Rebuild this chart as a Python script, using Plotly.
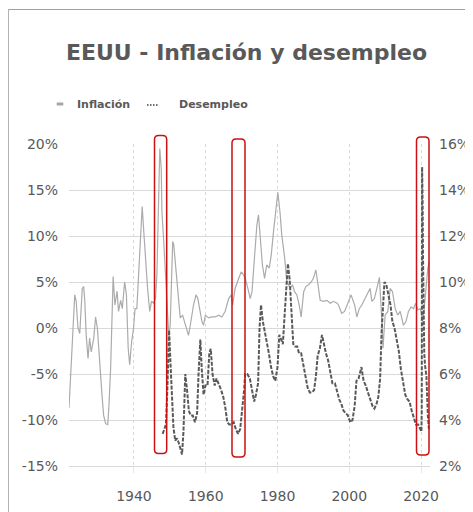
import plotly.graph_objects as go

# inflación interanual EEUU (%), eje izquierdo
infl_years = [1921.9, 1922.45, 1922.8, 1923.5, 1923.9, 1924.4, 1924.9, 1925.6, 1926.0, 1926.3,
              1926.7, 1927.2, 1927.65, 1928.1, 1928.8, 1929.3, 1929.8, 1930.4, 1931.1, 1931.55,
              1932.1, 1932.7, 1933.0, 1933.5, 1934.0, 1934.2, 1934.7, 1935.3, 1935.7, 1936.3,
              1936.75, 1937.4, 1937.9, 1938.4, 1938.8, 1939.35, 1939.9, 1940.3, 1940.8, 1941.4,
              1941.95, 1942.3, 1942.8, 1943.25, 1943.8, 1944.4, 1944.9, 1945.5, 1946.0, 1946.4,
              1946.9, 1947.2, 1947.6, 1947.8, 1948.3, 1948.7, 1949.2, 1949.7, 1950.1, 1950.8,
              1951.1, 1951.5, 1952.0, 1952.4, 1952.9, 1953.55, 1954.1, 1954.8, 1955.2, 1955.7,
              1956.6, 1957.3, 1957.8, 1958.3, 1958.95, 1959.4, 1959.9, 1960.8, 1961.7, 1962.65,
              1963.6, 1964.5, 1965.4, 1966.4, 1967.1, 1967.5, 1968.2, 1969.2, 1969.9, 1970.5,
              1971.0, 1971.75, 1972.4, 1972.9, 1973.6, 1974.25, 1974.7, 1975.2, 1975.8, 1976.4,
              1977.0, 1977.7, 1978.25, 1978.9, 1979.55, 1980.1, 1980.7, 1981.2, 1982.0, 1982.6,
              1983.1, 1983.5, 1984.2, 1984.75, 1985.4, 1986.05, 1986.6, 1987.3, 1987.9, 1988.65,
              1989.4, 1990.0, 1990.7, 1991.25, 1991.9, 1992.8, 1993.8, 1994.7, 1995.6, 1996.6,
              1997.0, 1997.9, 1998.7, 1999.6, 2000.5, 2001.5, 2002.1, 2002.8, 2003.5, 2004.4,
              2005.4, 2005.8, 2006.3, 2007.0, 2007.7, 2008.4, 2009.1, 2009.4, 2010.0, 2010.75,
              2011.4, 2012.05, 2012.8, 2013.5, 2014.2, 2015.1, 2015.8, 2016.5, 2017.25, 2017.9,
              2018.55, 2019.1, 2019.75, 2020.0, 2020.4, 2020.8, 2021.3, 2021.9, 2022.3]
infl_vals = [-8.7, -4.7, -0.8, 3.6, 2.9, 0.0, -0.6, 4.3, 4.5, 2.9,
             -0.8, -3.3, -1.1, -2.6, -1.1, 1.2, 0.0, -4.0, -7.3, -9.5,
             -10.4, -10.5, -8.7, -4.4, 2.9, 5.6, 2.5, 4.0, 1.8, 3.0,
             2.1, 5.0, 3.6, -2.2, -4.0, -1.5, 0.0, 2.1, 2.1, 7.2,
             11.9, 13.2, 10.1, 7.2, 4.3, 1.8, 2.9, 2.7, 3.2, 5.8,
             15.5, 19.5, 17.4, 12.6, 9.4, 6.5, 1.4, -0.8, 0.3, 9.4,
             9.0, 7.2, 5.0, 2.9, 1.1, 1.4, 0.7, -0.4, -0.8, 0.3,
             2.5, 3.6, 3.2, 2.1, 0.7, 0.3, 1.4, 1.1, 1.2, 1.2,
             1.4, 1.2, 1.8, 3.2, 3.6, 2.5, 4.3, 5.4, 6.1, 5.8,
             5.4, 4.3, 3.2, 3.95, 8.3, 11.2, 12.3, 10.1, 6.85, 5.4,
             6.85, 6.5, 7.9, 10.5, 13.0, 14.75, 12.6, 10.1, 7.6, 5.0,
             4.7, 4.3, 4.7, 3.95, 3.6, 2.5, 1.2, 3.95, 4.5, 4.7,
             5.0, 5.4, 6.3, 5.0, 3.0, 2.9, 3.0, 2.7, 2.9, 2.7,
             2.5, 1.6, 1.8, 2.7, 3.6, 2.5, 1.2, 2.1, 2.5, 3.2,
             3.95, 4.3, 2.9, 3.2, 4.3, 5.5, 0.7, -2.2, 1.4, 1.8,
             4.3, 3.95, 2.1, 1.4, 1.8, 0.3, 0.7, 1.8, 2.3, 2.1,
             2.7, 1.96, 2.1, 1.8, 0.7, 1.8, 3.95, 6.5, 7.2]

# tasa de desempleo EEUU (%), eje derecho
unemp_years = [1948.0, 1948.5, 1948.9, 1949.3, 1949.8, 1950.2, 1950.6, 1951.0, 1951.5, 1952.0,
               1952.5, 1953.0, 1953.4, 1953.8, 1954.3, 1954.8, 1955.3, 1955.8, 1956.4, 1957.0,
               1957.6, 1958.0, 1958.5, 1958.9, 1959.4, 1959.9, 1960.5, 1961.0, 1961.4, 1961.9,
               1962.5, 1963.0, 1963.6, 1964.3, 1964.9, 1965.5, 1966.0, 1966.6, 1967.2, 1967.8,
               1968.4, 1969.0, 1969.6, 1970.2, 1970.7, 1971.0, 1971.6, 1972.3, 1972.9, 1973.5,
               1974.0, 1974.6, 1975.0, 1975.4, 1975.9, 1976.5, 1977.0, 1977.6, 1978.2, 1978.8,
               1979.4, 1980.0, 1980.5, 1981.0, 1981.5, 1982.0, 1982.5, 1982.9, 1983.4, 1983.9,
               1984.4, 1984.9, 1985.5, 1986.0, 1986.6, 1987.2, 1987.8, 1988.4, 1989.0, 1989.6,
               1990.2, 1990.7, 1991.2, 1991.8, 1992.4, 1992.9, 1993.5, 1994.1, 1994.7, 1995.3,
               1996.0, 1996.6, 1997.2, 1997.8, 1998.4, 1999.0, 1999.6, 2000.3, 2000.9, 2001.5,
               2002.0, 2002.6, 2003.4, 2004.0, 2004.6, 2005.2, 2005.8, 2006.5, 2007.0, 2007.6,
               2008.1, 2008.6, 2009.0, 2009.5, 2009.8, 2010.3, 2010.9, 2011.5, 2012.0, 2012.6,
               2013.2, 2013.8, 2014.4, 2015.0, 2015.6, 2016.2, 2016.8, 2017.4, 2018.0, 2018.6,
               2019.2, 2019.7, 2020.1, 2020.2, 2020.3, 2020.45, 2020.55, 2020.7, 2020.9, 2021.1,
               2021.5, 2021.9, 2022.2]
unemp_vals = [3.4, 3.6, 3.8, 5.3, 7.9, 6.4, 5.0, 3.7, 3.1, 3.2,
              3.0, 2.7, 2.5, 3.5, 6.0, 5.3, 4.4, 4.2, 4.2, 3.9,
              4.3, 6.0, 7.5, 6.2, 5.1, 5.5, 5.5, 6.9, 7.1, 6.0,
              5.5, 5.8, 5.6, 5.3, 5.0, 4.5, 3.9, 3.8, 3.8, 3.9,
              3.6, 3.4, 3.6, 4.4, 5.3, 6.0, 6.0, 5.8, 5.2, 4.8,
              5.1, 5.6, 8.0, 9.0, 8.3, 7.8, 7.5, 6.9, 6.3, 5.9,
              5.7, 6.3, 7.7, 7.5, 7.3, 8.6, 9.8, 10.8, 10.1, 8.4,
              7.3, 7.2, 7.2, 6.9, 6.9, 6.4, 5.9, 5.4, 5.2, 5.2,
              5.3, 5.9, 6.8, 7.1, 7.7, 7.3, 6.9, 6.6, 6.0, 5.6,
              5.6, 5.2, 4.9, 4.7, 4.4, 4.3, 4.2, 3.9, 4.0, 4.6,
              5.7, 5.8, 6.3, 5.7, 5.5, 5.2, 4.9, 4.6, 4.5, 4.7,
              5.0, 5.8, 7.8, 9.5, 10.0, 9.9, 9.4, 9.0, 8.3, 8.0,
              7.5, 7.0, 6.2, 5.6, 5.1, 4.9, 4.8, 4.4, 4.1, 3.8,
              3.8, 3.6, 3.5, 4.4, 15.0, 13.3, 11.1, 8.4, 6.9, 6.4,
              5.9, 4.2, 3.6]

left_ticks = [-15, -10, -5, 0, 5, 10, 15, 20]
left_labels = ["-15%", "-10%", "-5%", "0%", "5%", "10%", "15%", "20%"]
right_ticks = [2, 4, 6, 8, 10, 12, 14, 16]
right_labels = ["2%", "4%", "6%", "8%", "10%", "12%", "14%", "16%"]
year_ticks = [1940, 1960, 1980, 2000, 2020]

# zonas resaltadas (x0, y0, x1, y1 en píxeles de la imagen)
boxes = [(154.5, 135.5, 166.7, 453.5),
         (232.0, 139.0, 245.0, 457.0),
         (416.5, 137.0, 429.0, 455.0)]

W, H = 473, 512
OFF = 8  # margen por defecto del <body> en la página
L, R, T, B = 69, 430, 144, 466   # área de trazado en píxeles de la imagen
TXT = "#595959"
GRID = "#d9d9d9"


def px_x(px):
    return (px - L) / (R - L)


def px_y(py):
    return (B - py) / (B - T)


def rounded_box(x0, y0, x1, y1, r=4):
    ax0, ax1 = px_x(x0), px_x(x1)
    ay0, ay1 = px_y(y1), px_y(y0)
    rx = r / (R - L)
    ry = r / (B - T)
    return (f"M {ax0+rx},{ay1} L {ax1-rx},{ay1} Q {ax1},{ay1} {ax1},{ay1-ry} "
            f"L {ax1},{ay0+ry} Q {ax1},{ay0} {ax1-rx},{ay0} "
            f"L {ax0+rx},{ay0} Q {ax0},{ay0} {ax0},{ay0+ry} "
            f"L {ax0},{ay1-ry} Q {ax0},{ay1} {ax0+rx},{ay1} Z")


fig = go.Figure()
fig.add_trace(go.Scatter(x=infl_years, y=infl_vals, mode="lines", name="Inflación",
                         line=dict(color="#ababab", width=1.2)))
fig.add_trace(go.Scatter(x=unemp_years, y=unemp_vals, mode="lines", name="Desempleo",
                         yaxis="y2", line=dict(color="#595959", width=2, dash="4px,1.5px")))

shapes = []
# marco exterior del gráfico (el borde superior queda justo al inicio del lienzo)
shapes.append(dict(type="rect", xref="paper", yref="paper",
                   x0=px_x(8.3), x1=px_x(495), y0=px_y(530), y1=px_y(OFF + 1.5),
                   line=dict(color="#a0a0a0", width=1)))
for (x0, y0, x1, y1) in boxes:
    shapes.append(dict(type="path", xref="paper", yref="paper",
                       path=rounded_box(x0, y0, x1, y1),
                       line=dict(color="#cc1111", width=1.5)))
# símbolos de la leyenda
shapes.append(dict(type="line", xref="paper", yref="paper",
                   x0=px_x(56.7), x1=px_x(63.3), y0=px_y(104), y1=px_y(104),
                   line=dict(color="#a6a6a6", width=3)))
shapes.append(dict(type="line", xref="paper", yref="paper",
                   x0=px_x(147), x1=px_x(159), y0=px_y(105), y1=px_y(105),
                   line=dict(color="#404040", width=1.5, dash="1.5px,1.5px")))

annotations = [
    dict(text="Inflación", x=px_x(75), y=px_y(104), xref="paper", yref="paper",
         xanchor="left", yanchor="middle", showarrow=False,
         font=dict(size=11, color=TXT, weight="bold")),
    dict(text="Desempleo", x=px_x(177), y=px_y(104), xref="paper", yref="paper",
         xanchor="left", yanchor="middle", showarrow=False,
         font=dict(size=11, color=TXT, weight="bold")),
]

fig.update_layout(
    width=W, height=H,
    margin=dict(l=L - OFF, r=W - (R - OFF), t=T - OFF, b=H - (B - OFF), pad=0),
    paper_bgcolor="white", plot_bgcolor="white",
    font=dict(family="DejaVu Sans", color=TXT),
    title=dict(text="EEUU - Inflación y desempleo", xref="container", yref="container",
               x=(246.5 - OFF) / W, y=1 - (52.5 - OFF) / H, xanchor="center", yanchor="middle",
               font=dict(size=22, color=TXT, weight="bold")),
    showlegend=False,
    shapes=shapes,
    annotations=annotations,
    xaxis=dict(range=[1921.9, 2022.5], tickvals=year_ticks, showgrid=True,
               gridcolor=GRID, griddash="dot", gridwidth=1, zeroline=False,
               showline=True, linecolor=GRID, linewidth=1,
               ticks="outside", ticklen=6, tickcolor="#e6e6e6",
               tickfont=dict(size=14, color=TXT), ticklabelstandoff=11),
    yaxis=dict(range=[-15, 20], tickvals=left_ticks, ticktext=left_labels,
               showgrid=True, gridcolor=GRID, gridwidth=1, zeroline=False,
               showline=False, ticks="", tickfont=dict(size=14, color=TXT),
               ticklabelstandoff=10),
    yaxis2=dict(range=[2, 16], tickvals=right_ticks, ticktext=right_labels,
                overlaying="y", side="right", showgrid=False, zeroline=False,
                showline=False, ticks="", tickfont=dict(size=14, color=TXT),
                ticklabelstandoff=8),
)

fig.write_html("out.html")
